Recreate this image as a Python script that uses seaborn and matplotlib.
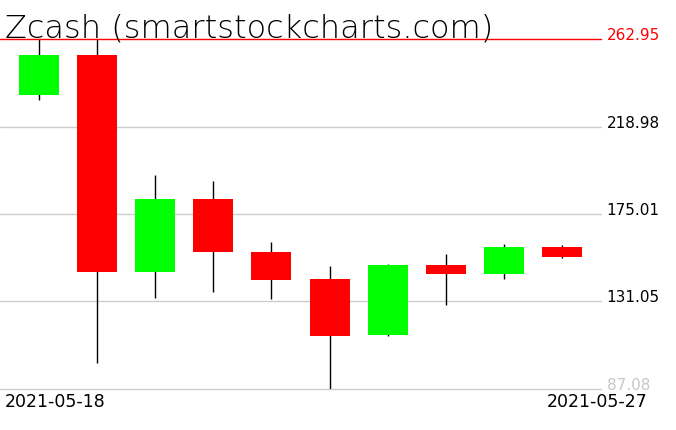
import matplotlib
matplotlib.use('Agg')
import matplotlib.pyplot as plt
import seaborn as sns
import pandas as pd

# Datos de las velas
dates = ['2021-05-18', '2021-05-19', '2021-05-20', '2021-05-21', '2021-05-22',
         '2021-05-23', '2021-05-24', '2021-05-25', '2021-05-26', '2021-05-27']
open_ = [234.96, 254.90, 146.00, 182.55, 156.07, 142.30, 114.35, 149.40, 144.85, 158.43]
high = [262.95, 262.95, 194.60, 191.60, 161.10, 148.90, 149.90, 154.90, 159.90, 159.40]
low = [232.45, 99.95, 132.95, 135.80, 132.45, 87.08, 113.85, 129.45, 142.50, 153.05]
close = [254.90, 146.00, 182.55, 156.07, 142.00, 113.85, 149.40, 144.85, 158.43, 153.55]
levels = [87.08, 131.05, 175.01, 218.98, 262.95]
level_labels = ['87.08', '131.05', '175.01', '218.98', '262.95']

df = pd.DataFrame({'date': dates, 'open': open_, 'high': high, 'low': low, 'close': close})
df['pos'] = range(len(df))
df['bottom'] = df[['open', 'close']].min(axis=1)
df['height'] = (df['open'] - df['close']).abs()
df['color'] = ['#00ff00' if c >= o else '#ff0000' for o, c in zip(df['open'], df['close'])]

sns.set_style('white')
plt.rcParams['font.family'] = ['DejaVu Sans']
plt.rcParams['text.color'] = 'black'

fig = plt.figure(figsize=(6.76, 4.31), dpi=100)
ax = fig.add_axes([0, 41 / 431, 601 / 676, 350 / 431])

# Líneas de referencia
for lv in levels[:-1]:
    ax.axhline(lv, color='#cccccc', linewidth=1, zorder=0, clip_on=False)
ax.axhline(levels[-1], color='#ff0000', linewidth=1, zorder=3, clip_on=False)

# Mechas y cuerpos
ax.vlines(df['pos'], df['low'], df['high'], color='black', linewidth=1, zorder=1)
ax.bar(df['pos'], df['height'], bottom=df['bottom'], width=0.69,
       color=df['color'], linewidth=0, zorder=2)

ax.set_xlim(-0.67, len(df) - 1 + 0.67)
ax.set_ylim(levels[0], levels[-1])
sns.despine(ax=ax, left=True, bottom=True, right=True, top=True)
ax.set_xticks([])
ax.yaxis.tick_right()
ax.set_yticks(levels)
ax.set_yticklabels(level_labels, fontsize=11, va='baseline')
ax.tick_params(axis='y', length=0, pad=4)
tl = ax.get_yticklabels()
tl[0].set_color('#c8c8c8')
tl[-1].set_color('#ff0000')
for t in tl[1:-1]:
    t.set_color('black')

# Título y fechas
fig.text(5 / 676, 1 - 37 / 431, 'Zcash (smartstockcharts.com)', fontsize=23,
         fontweight='light', va='baseline', ha='left', color='black')
fig.text(5 / 676, 1 - 407 / 431, dates[0], fontsize=12.5, va='baseline', ha='left',
         color='black')
fig.text(647 / 676, 1 - 407 / 431, dates[-1], fontsize=12.5, va='baseline', ha='right',
         color='black')

fig.savefig('out.png', dpi=100)
